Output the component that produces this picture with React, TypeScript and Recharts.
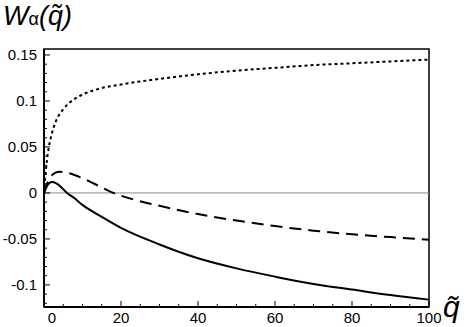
import { LineChart, Line, XAxis, YAxis, ReferenceLine, ReferenceArea } from 'recharts';

// solid curve
const solidQ = [0, 0.5, 1, 2, 3, 4, 5, 6, 8, 10, 15, 20, 30, 40, 50, 60, 70, 80, 90, 100];
const solidW = [0, 0.005, 0.009, 0.012, 0.011, 0.008, 0.004, 0, -0.006, -0.013, -0.026, -0.038, -0.056, -0.071, -0.082, -0.091, -0.099, -0.105, -0.111, -0.116];

// dashed curve
const dashedQ = [0, 0.5, 1, 2, 3, 4, 6, 10, 15, 18, 20, 30, 40, 50, 60, 70, 80, 90, 100];
const dashedW = [0, 0.007, 0.012, 0.019, 0.022, 0.023, 0.022, 0.016, 0.006, 0, -0.003, -0.014, -0.023, -0.03, -0.036, -0.041, -0.045, -0.048, -0.051];

// dotted curve
const dottedQ = [0, 0.5, 1, 2, 3, 5, 7.5, 10, 15, 20, 30, 40, 50, 60, 70, 80, 90, 100];
const dottedW = [0, 0.025, 0.043, 0.064, 0.077, 0.091, 0.101, 0.107, 0.114, 0.118, 0.124, 0.129, 0.133, 0.136, 0.139, 0.141, 0.143, 0.145];

const xTicks = [0, 5, 10, 15, 20, 25, 30, 35, 40, 45, 50, 55, 60, 65, 70, 75, 80, 85, 90, 95, 100];
const xMajor = [0, 20, 40, 60, 80, 100];
const yTicks = [-0.12, -0.11, -0.1, -0.09, -0.08, -0.07, -0.06, -0.05, -0.04, -0.03, -0.02, -0.01, 0, 0.01, 0.02, 0.03, 0.04, 0.05, 0.06, 0.07, 0.08, 0.09, 0.1, 0.11, 0.12, 0.13, 0.14, 0.15];
const yMajor = [-0.1, -0.05, 0, 0.05, 0.1, 0.15];

const toRows = (qs: number[], ws: number[]) => qs.map((q, i) => ({ q, w: ws[i] }));

const FONT = '"Liberation Sans", Arial, sans-serif';
const M = 4;

const XTick = (props: any) => {
  const { x, y, payload } = props;
  const v = payload.value;
  const major = xMajor.includes(v);
  const axisY = y - M;
  return (
    <g>
      <line x1={x} x2={x} y1={axisY} y2={axisY - (major ? 6 : 3)} stroke="#000" strokeWidth={1} />
      {major && (
        <text x={x + (v === 0 ? 8 : 0)} y={axisY + 16} textAnchor="middle" fontSize={15} fontFamily={FONT} fill="#000">
          {v}
        </text>
      )}
    </g>
  );
};

const YTick = (props: any) => {
  const { x, y, payload } = props;
  const v = payload.value;
  const major = yMajor.some((m) => Math.abs(m - v) < 1e-9);
  const axisX = x + M;
  return (
    <g>
      <line x1={axisX} x2={axisX + (major ? 6 : 3)} y1={y} y2={y} stroke="#000" strokeWidth={1} />
      {major && (
        <text x={axisX - 7} y={y + 5} textAnchor="end" fontSize={15} fontFamily={FONT} fill="#000">
          {v}
        </text>
      )}
    </g>
  );
};

export default function App() {
  return (
    <div style={{ position: 'absolute', left: 0, top: 0, width: 468, height: 327, background: '#fff' }}>
      <LineChart width={468} height={327} margin={{ top: 49, right: 39, bottom: 0, left: 0 }}>
        <XAxis
          type="number"
          dataKey="q"
          domain={[0, 100]}
          ticks={xTicks}
          interval={0}
          height={20}
          tickSize={0}
          tickMargin={M}
          axisLine={{ stroke: '#000', strokeWidth: 2 }}
          tick={<XTick />}
          allowDataOverflow
        />
        <YAxis
          type="number"
          dataKey="w"
          domain={[-0.124, 0.1565]}
          ticks={yTicks}
          interval={0}
          width={44}
          tickSize={0}
          tickMargin={M}
          axisLine={{ stroke: '#000', strokeWidth: 2 }}
          tick={<YTick />}
          allowDataOverflow
        />
        <ReferenceArea x1={0} x2={100} y1={-0.124} y2={0.1565} fill="none" stroke="#000" strokeWidth={1.5} ifOverflow="visible" />
        <ReferenceLine y={0} stroke="#888" strokeWidth={1} />
        <Line data={toRows(dottedQ, dottedW)} dataKey="w" type="monotone" stroke="#000" strokeWidth={2} strokeDasharray="3 3" dot={false} isAnimationActive={false} />
        <Line data={toRows(dashedQ, dashedW)} dataKey="w" type="monotone" stroke="#000" strokeWidth={2} strokeDasharray="12 7" dot={false} isAnimationActive={false} />
        <Line data={toRows(solidQ, solidW)} dataKey="w" type="monotone" stroke="#000" strokeWidth={2} dot={false} isAnimationActive={false} />
      </LineChart>
      <div style={{ position: 'absolute', left: 3, top: 3, fontFamily: FONT, fontSize: 27, lineHeight: 1, color: '#000', whiteSpace: 'nowrap' }}>
        <i>W</i>
        <span style={{ fontSize: 18 }}>α</span>
        <i>(q̃)</i>
      </div>
      <div style={{ position: 'absolute', left: 443, top: 292, fontFamily: FONT, fontSize: 30, lineHeight: 1, color: '#000', fontStyle: 'italic' }}>
        q̃
      </div>
    </div>
  );
}
